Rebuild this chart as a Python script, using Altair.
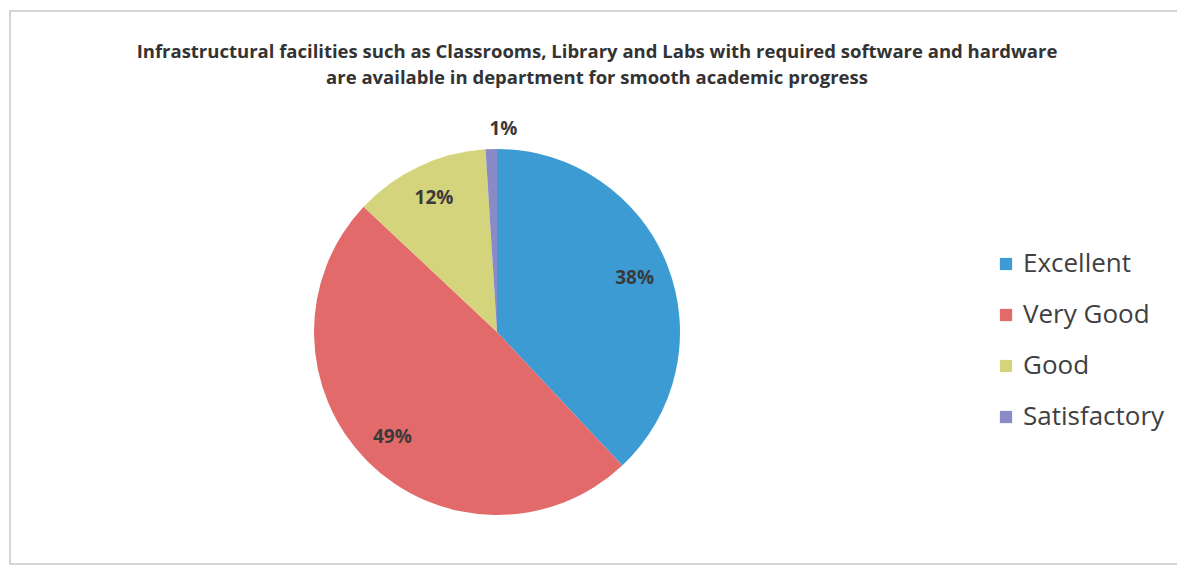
import altair as alt
import pandas as pd

categories = ["Excellent", "Very Good", "Good", "Satisfactory"]
values = [38, 49, 12, 1]
colors = ["#3d9bd4", "#e26a6a", "#d4d47c", "#8a8ac6"]
title_lines = [
    "Infrastructural facilities such as Classrooms, Library and Labs with required software and hardware",
    "are available in department for smooth academic progress",
]

df = pd.DataFrame({"category": categories, "value": values, "idx": list(range(len(categories)))})

W, H = 1169, 566
CX, CY = 489, 324
R = 183

color = alt.Color(
    "category:N",
    sort=categories,
    scale=alt.Scale(domain=categories, range=colors),
    legend=alt.Legend(
        title=None,
        orient="none",
        legendX=985,
        legendY=243,
        labelFontSize=26,
        labelFont="Open Sans",
        labelColor="#404040",
        symbolType="square",
        symbolSize=150,
        symbolStrokeWidth=0,
        rowPadding=25,
        labelOffset=4,
    ),
)

base = alt.Chart(df)

pie = base.mark_arc(outerRadius=R, stroke=None).encode(
    theta=alt.Theta("value:Q", stack=True),
    color=color,
    order=alt.Order("idx:Q"),
    x=alt.value(CX),
    y=alt.value(CY),
)

labels = base.transform_calculate(
    r="datum.value < 5 ? 203 : 148",
    lbl="datum.value + '%'",
).mark_text(fontSize=19, font="Open Sans", fontWeight="bold", color="#3a3a3a").encode(
    theta=alt.Theta("value:Q", stack=True),
    radius=alt.Radius("r:Q", scale=None),
    text="lbl:N",
    order=alt.Order("idx:Q"),
    x=alt.value(CX),
    y=alt.value(CY),
)

title_layers = []
for i, line in enumerate(title_lines):
    tdf = pd.DataFrame({"line": [line]})
    title_layers.append(
        alt.Chart(tdf).mark_text(
            fontSize=18.5, font="Open Sans", fontWeight="bold", color="#333333",
            align="center", baseline="middle"
        ).encode(
            text="line:N",
            x=alt.value(589),
            y=alt.value(44 + 26 * i),
        )
    )

frame = alt.Chart(pd.DataFrame({"a": [0]})).mark_rect(
    fill=None, stroke="#c8c8c8", strokeWidth=1.5
).encode(
    x=alt.value(2), x2=alt.value(1172), y=alt.value(3), y2=alt.value(556)
)

chart = alt.layer(frame, pie, labels, *title_layers).properties(
    width=W, height=H, padding=0, autosize=alt.AutoSizeParams(type="none")
).configure_view(stroke=None)

chart.save("out.html", embed_options={"renderer": "svg", "actions": False})
